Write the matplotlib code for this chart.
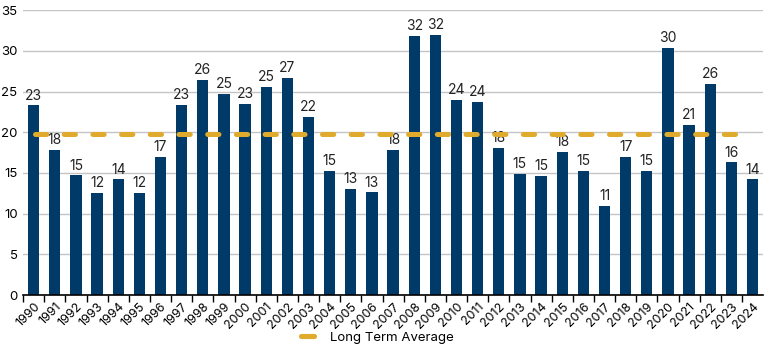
import numpy as np
import matplotlib.pyplot as plt
from matplotlib.lines import Line2D

years = [str(y) for y in range(1990, 2025)]
values = [23.3, 17.8, 14.7, 12.5, 14.2, 12.5, 17.0, 23.4, 26.4, 24.7, 23.5,
          25.6, 26.7, 21.9, 15.2, 13.0, 12.6, 17.8, 31.8, 32.0, 24.0, 23.7,
          18.1, 14.9, 14.6, 17.6, 15.3, 11.0, 17.0, 15.3, 30.4, 20.9, 25.9,
          16.3, 14.2]
labels = [23, 18, 15, 12, 14, 12, 17, 23, 26, 25, 23,
          25, 27, 22, 15, 13, 13, 18, 32, 32, 24, 24,
          18, 15, 15, 18, 15, 11, 17, 15, 30, 21, 26,
          16, 14]
long_term_avg = 19.8

navy = '#003a68'
gold = '#e0ab2c'

plt.rcParams['font.family'] = ['Inter', 'DejaVu Sans']

fig = plt.figure(figsize=(7.7, 3.5), dpi=100)
ax = fig.add_axes([0.030, 0.157, 0.961, 0.814])

x = np.arange(len(years))
ax.bar(x, values, width=0.53, color=navy, zorder=2)
for xi, v, lab in zip(x, values, labels):
    ax.text(xi, v + 0.35, str(lab), ha='center', va='bottom', fontsize=10, color='#222222')

# average line: short rounded dashes, 1990 through 2023
ax.plot([x[0] + 0.04, x[-1] - 0.5], [long_term_avg, long_term_avg], color=gold,
        linewidth=3.6, dashes=(2.25, 3.49), dash_capstyle='round', zorder=3)

ax.set_xlim(-0.5, len(years) - 0.5)
ax.set_ylim(0, 35)
ax.set_yticks(range(0, 36, 5))
ax.yaxis.grid(True, color='#c4c4c4', linewidth=1, zorder=0)
ax.set_axisbelow(True)

ax.set_xticks(x - 0.5, minor=False)
ax.set_xticks(x, minor=True)
ax.set_xticklabels([])
ax.set_xticklabels(years, minor=True, rotation=45, ha='right',
                   rotation_mode='anchor', fontsize=9)
ax.tick_params(axis='x', which='major', length=5, width=1, color='black', direction='out')
ax.tick_params(axis='x', which='minor', length=0, pad=4)
ax.tick_params(axis='y', length=0, labelsize=9.5, pad=4)

for s in ['top', 'right', 'left']:
    ax.spines[s].set_visible(False)
ax.spines['bottom'].set_color('black')
ax.spines['bottom'].set_linewidth(1.2)

handle = Line2D([0], [0], color=gold, linewidth=3.7, solid_capstyle='round')
fig.legend([handle], ['Long Term Average'], loc='center', bbox_to_anchor=(0.49, 0.035),
           frameon=False, fontsize=9.5, handlelength=1.0, handletextpad=1.2)

fig.savefig('out.png', dpi=100)
plt.close()
